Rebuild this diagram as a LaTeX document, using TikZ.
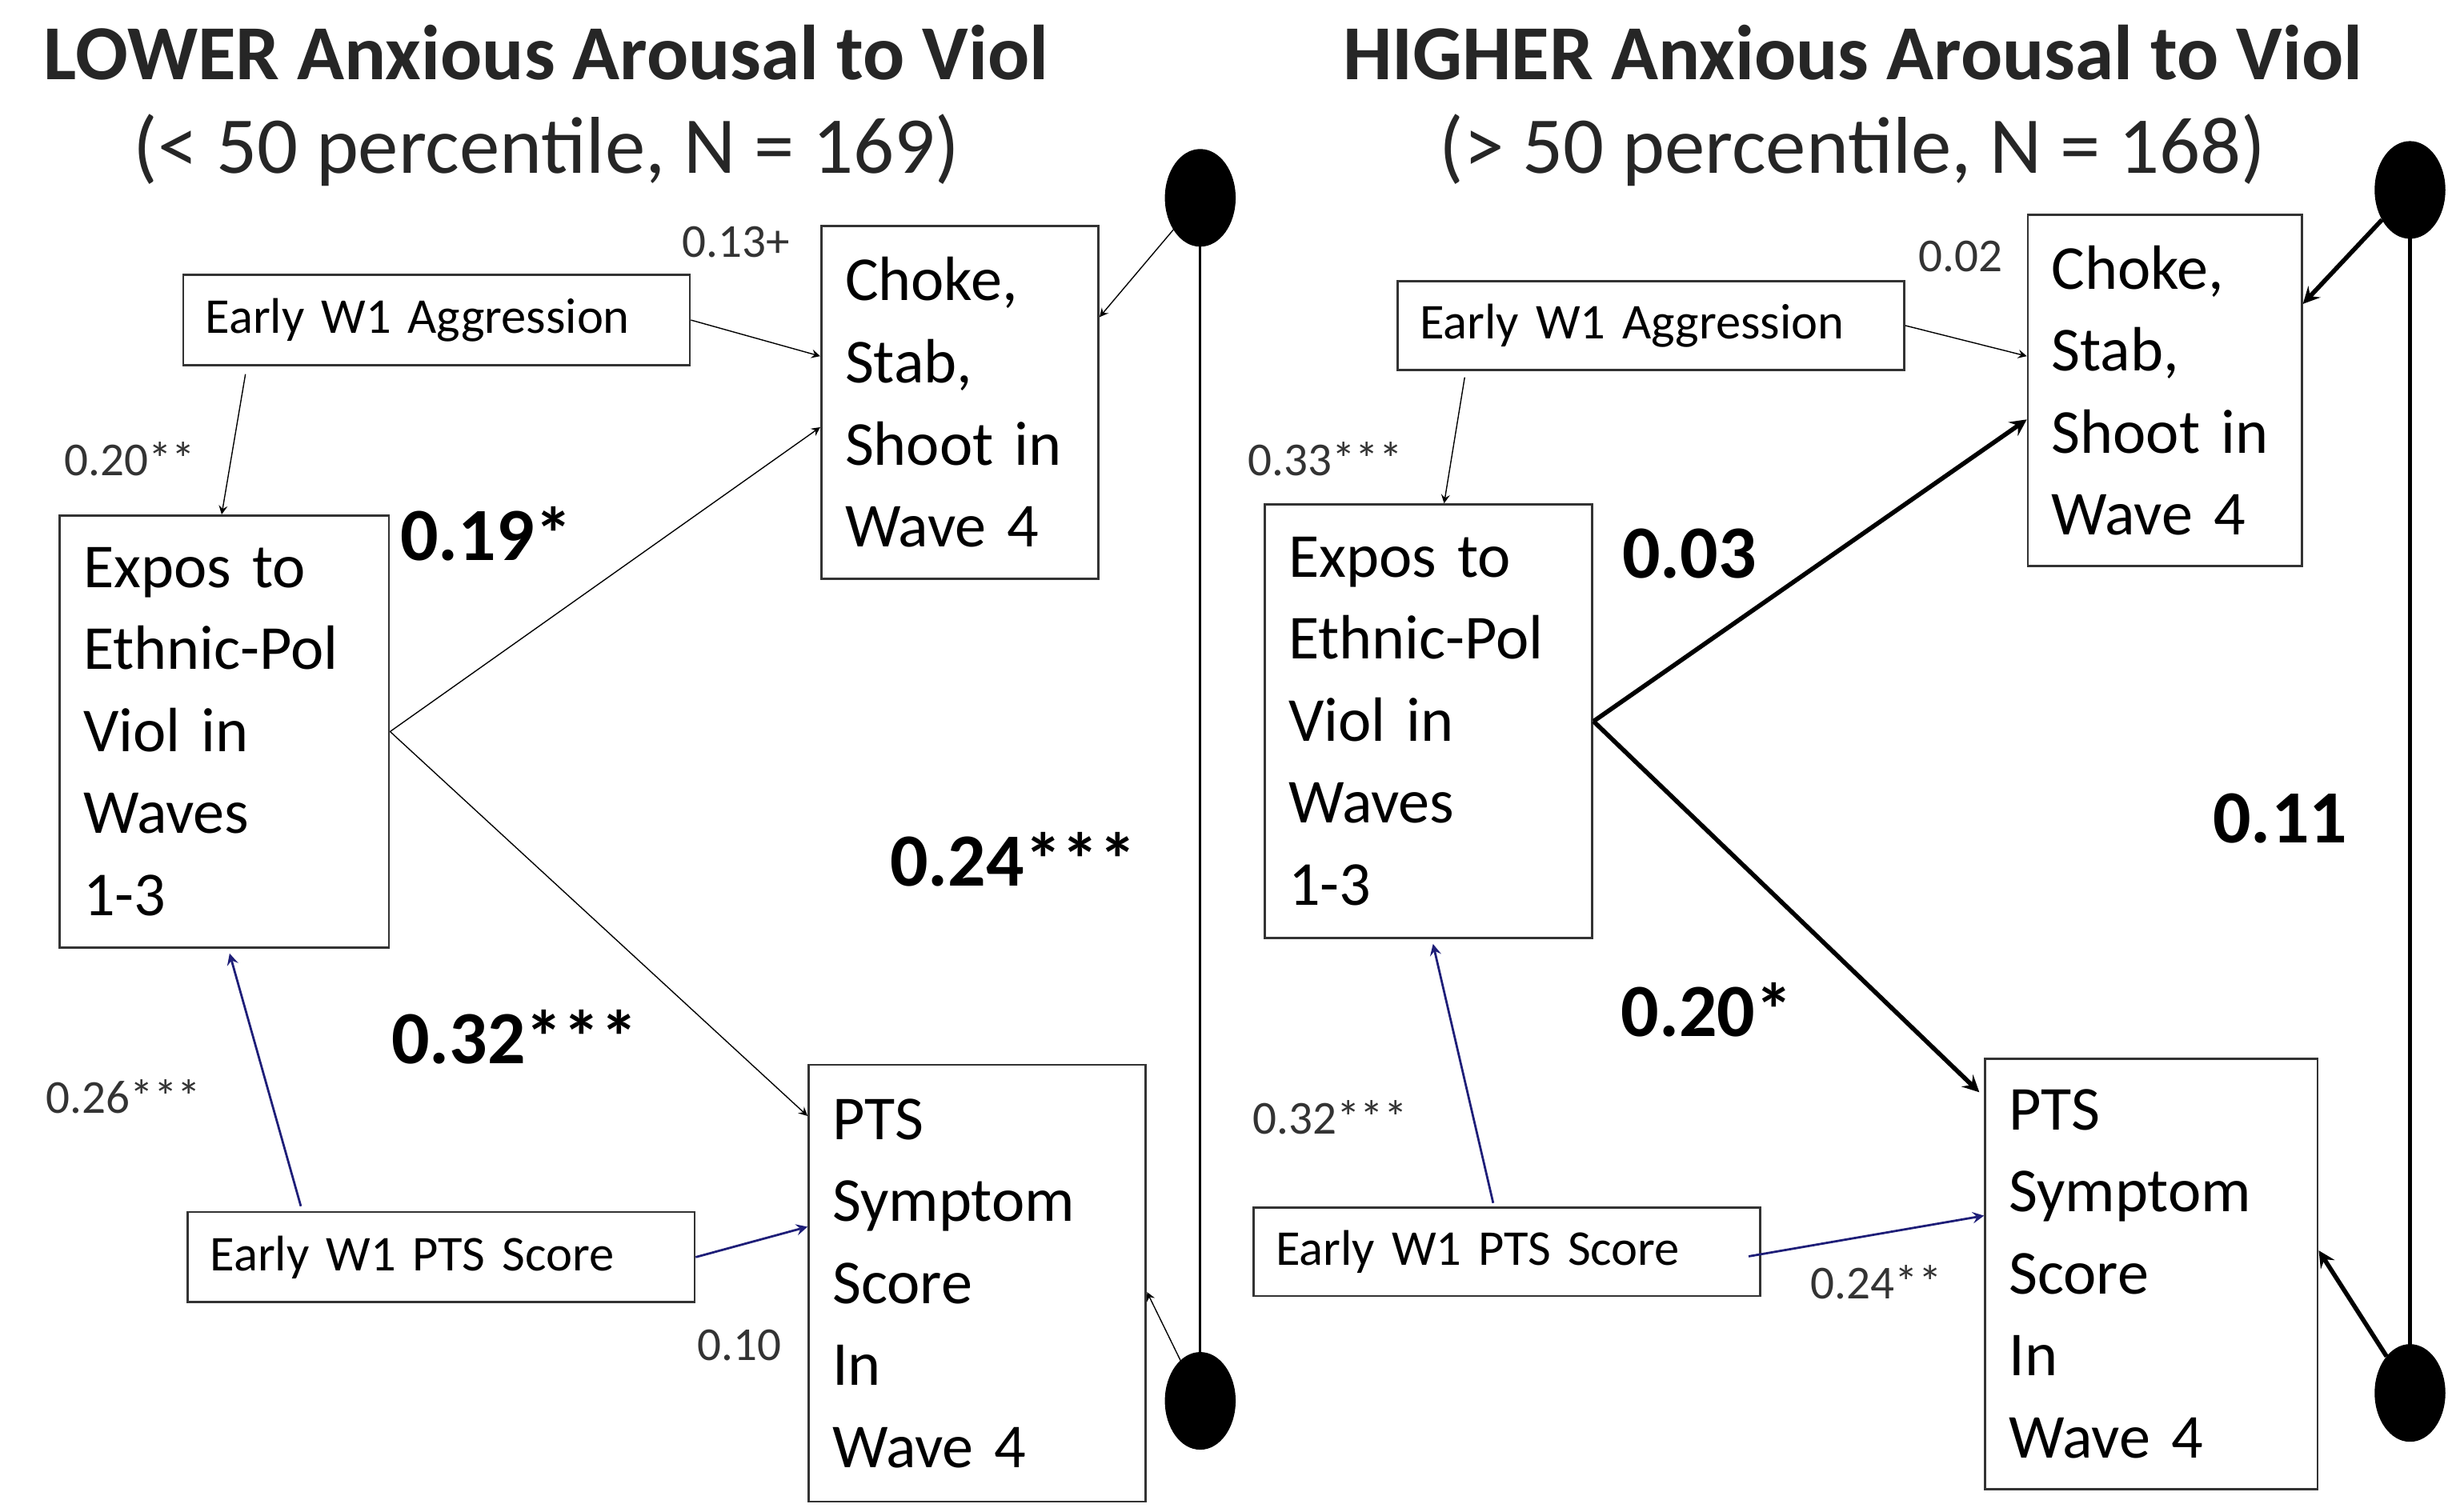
\documentclass[tikz,border=0pt]{standalone}
\usepackage{fontspec}
\setmainfont{Carlito}
\usetikzlibrary{shapes.geometric,calc}
\tikzstyle{box} = [draw=black!80, thick, rectangle, anchor=north west,
  align=left, inner xsep=0.3cm, inner ysep=0cm, font=\fontsize{22.5}{29.5}\selectfont]
\tikzstyle{early} = [draw=black!80, thick, rectangle, anchor=north west,
  inner xsep=0.28cm, inner ysep=0cm, font=\fontsize{18}{20}\selectfont, text width=5.84cm, align=left]
\tikzstyle{dot} = [draw, fill=black, ellipse, minimum width=0.88cm, minimum height=1.22cm]
\tikzstyle{coef} = [font=\fontsize{17}{19}\selectfont, text=black!80]
\tikzstyle{bigcoef} = [font=\bfseries\fontsize{27}{30}\selectfont]
\tikzstyle{title} = [font=\bfseries\fontsize{28}{32}\selectfont, text=black!85]
\tikzstyle{subtitle} = [font=\fontsize{29}{33}\selectfont, text=black!85]
\tikzstyle{blu} = [draw={rgb,255:red,30;green,30;blue,120}, thick]
\begin{document}
\begin{tikzpicture}[x=0.02cm, y=-0.02cm, >=stealth]
        \useasboundingbox (0,0) rectangle (1546,955);
        % left panel
        \node [title]    (ltitle) at (345,33) {LOWER Anxious Arousal to Viol};
        \node [subtitle] (lsub)   at (345,95) {(< 50 percentile, N = 169)};
        \node [early, minimum height=1.14cm] (lagg) at (115,173) {Early W1 Aggression};
        \node [box, text width=2.9cm, minimum height=4.46cm] (lchoke) at (518,142) {Choke,\\Stab,\\Shoot in\\Wave 4};
        \node [box, text width=3.56cm, minimum height=5.46cm] (lexpos) at (37,325) {Expos to\\Ethnic-Pol\\Viol in\\Waves\\1-3};
        \node [box, text width=3.66cm, minimum height=5.52cm] (lpts) at (510,672) {PTS\\Symptom\\Score\\In\\Wave 4};
        \node [early, minimum height=1.14cm] (lptss) at (118,765) {Early W1 PTS Score};
        \node [dot] (ltop) at (758,125) {};
        \node [dot] (lbot) at (758,885) {};
        \draw [thick] (ltop.center) -- (lbot.center);
        \draw [->] (ltop) -- ($(lchoke.north east)!0.26!(lchoke.south east)$);
        \draw [->] (lbot) -- ($(lpts.north east)!0.52!(lpts.south east)$);
        \draw [->] (lagg.east) -- ($(lchoke.north west)!0.37!(lchoke.south west)$);
        \draw [->] ($(lagg.south west)+(40,5)$) -- ($(lexpos.north west)+(103,0)$);
        \draw [->] (lexpos.east) -- ($(lchoke.north west)!0.57!(lchoke.south west)$);
        \draw [->] (lexpos.east) -- ($(lpts.north west)+(0,33)$);
        \draw [->, blu] ($(lptss.north west)+(72,-3)$) -- ($(lexpos.south west)+(108,3)$);
        \draw [->, blu] (lptss.east) -- ($(lpts.north west)+(0,103)$);
        \node [coef] (l13) at (465,153) {0.13+};
        \node [coef] (l20) at (82,290) {0.20**};
        \node [bigcoef] (l19) at (307,337) {0.19*};
        \node [bigcoef] (l24) at (640,543) {0.24***};
        \node [bigcoef] (l32) at (325,655) {0.32***};
        \node [coef] (l26) at (78,693) {0.26***};
        \node [coef] (l10) at (467,850) {0.10};
        % right panel
        \node [title]    (rtitle) at (1170,33) {HIGHER Anxious Arousal to Viol};
        \node [subtitle] (rsub)   at (1170,95) {(> 50 percentile, N = 168)};
        \node [early, minimum height=1.12cm] (ragg) at (882,177) {Early W1 Aggression};
        \node [box, text width=2.86cm, minimum height=4.44cm] (rchoke) at (1280,135) {Choke,\\Stab,\\Shoot in\\Wave 4};
        \node [box, text width=3.54cm, minimum height=5.48cm] (rexpos) at (798,318) {Expos to\\Ethnic-Pol\\Viol in\\Waves\\1-3};
        \node [box, text width=3.6cm, minimum height=5.44cm] (rpts) at (1253,668) {PTS\\Symptom\\Score\\In\\Wave 4};
        \node [early, minimum height=1.12cm] (rptss) at (791,762) {Early W1 PTS Score};
        \node [dot] (rtop) at (1522,120) {};
        \node [dot] (rbot) at (1522,880) {};
        \draw [ultra thick] (rtop.center) -- (rbot.center);
        \draw [->, ultra thick] (rtop) -- ($(rchoke.north east)+(0,57)$);
        \draw [->, ultra thick] (rbot) -- ($(rpts.north east)+(0,122)$);
        \draw [->] (ragg.east) -- ($(rchoke.north west)+(0,90)$);
        \draw [->] ($(ragg.south west)+(43,4)$) -- ($(rexpos.north west)+(114,0)$);
        \draw [->, ultra thick] (rexpos.east) -- ($(rchoke.north west)+(0,130)$);
        \draw [->, ultra thick] (rexpos.east) -- ($(rpts.north west)+(-3,22)$);
        \draw [->, blu] ($(rptss.north west)+(152,-2)$) -- ($(rexpos.south west)+(107,3)$);
        \draw [->, blu] ($(rptss.east)+(-8,3)$) -- ($(rpts.north west)+(0,100)$);
        \node [coef] (r02) at (1238,162) {0.02};
        \node [coef] (r33) at (837,290) {0.33***};
        \node [bigcoef] (r03) at (1067,350) {0.03};
        \node [bigcoef] (r11) at (1440,517) {0.11};
        \node [bigcoef] (r20) at (1078,638) {0.20*};
        \node [coef] (r32) at (840,706) {0.32***};
        \node [coef] (r24) at (1185,810) {0.24**};
\end{tikzpicture}
\end{document}
